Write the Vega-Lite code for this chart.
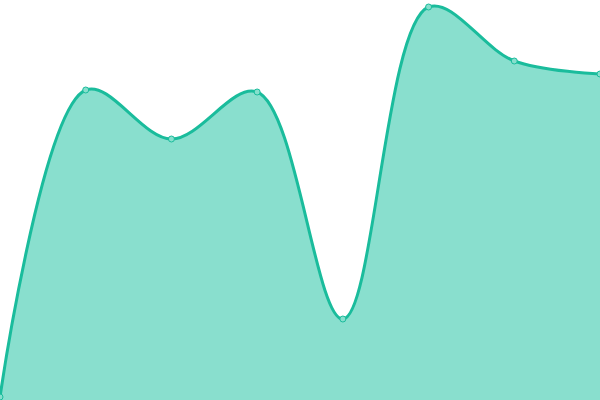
{
  "$schema": "https://vega.github.io/schema/vega-lite/v6.json",
  "autosize": "none",
  "width": 600,
  "height": 400,
  "padding": 0,
  "background": "#ffffff",
  "data": {
    "values": [
      {"i": 0, "v": 3},
      {"i": 1, "v": 310},
      {"i": 2, "v": 261},
      {"i": 3, "v": 308},
      {"i": 4, "v": 81},
      {"i": 5, "v": 393},
      {"i": 6, "v": 339},
      {"i": 7, "v": 326}
    ]
  },
  "encoding": {
    "x": {"field": "i", "type": "quantitative", "axis": null, "scale": {"domain": [0, 7], "nice": false, "zero": false}},
    "y": {"field": "v", "type": "quantitative", "axis": null, "scale": {"domain": [0, 400], "nice": false}}
  },
  "layer": [
    {"mark": {"type": "area", "interpolate": "catmull-rom", "tension": 0.5, "color": "#89dfce", "opacity": 1}},
    {"mark": {"type": "line", "interpolate": "catmull-rom", "tension": 0.5, "color": "#1abc9c", "strokeWidth": 3}},
    {"mark": {"type": "point", "filled": true, "size": 36, "fill": "#86dfcd", "stroke": "#1abc9c", "strokeWidth": 1, "opacity": 1}}
  ],
  "config": {"view": {"stroke": null}}
}
